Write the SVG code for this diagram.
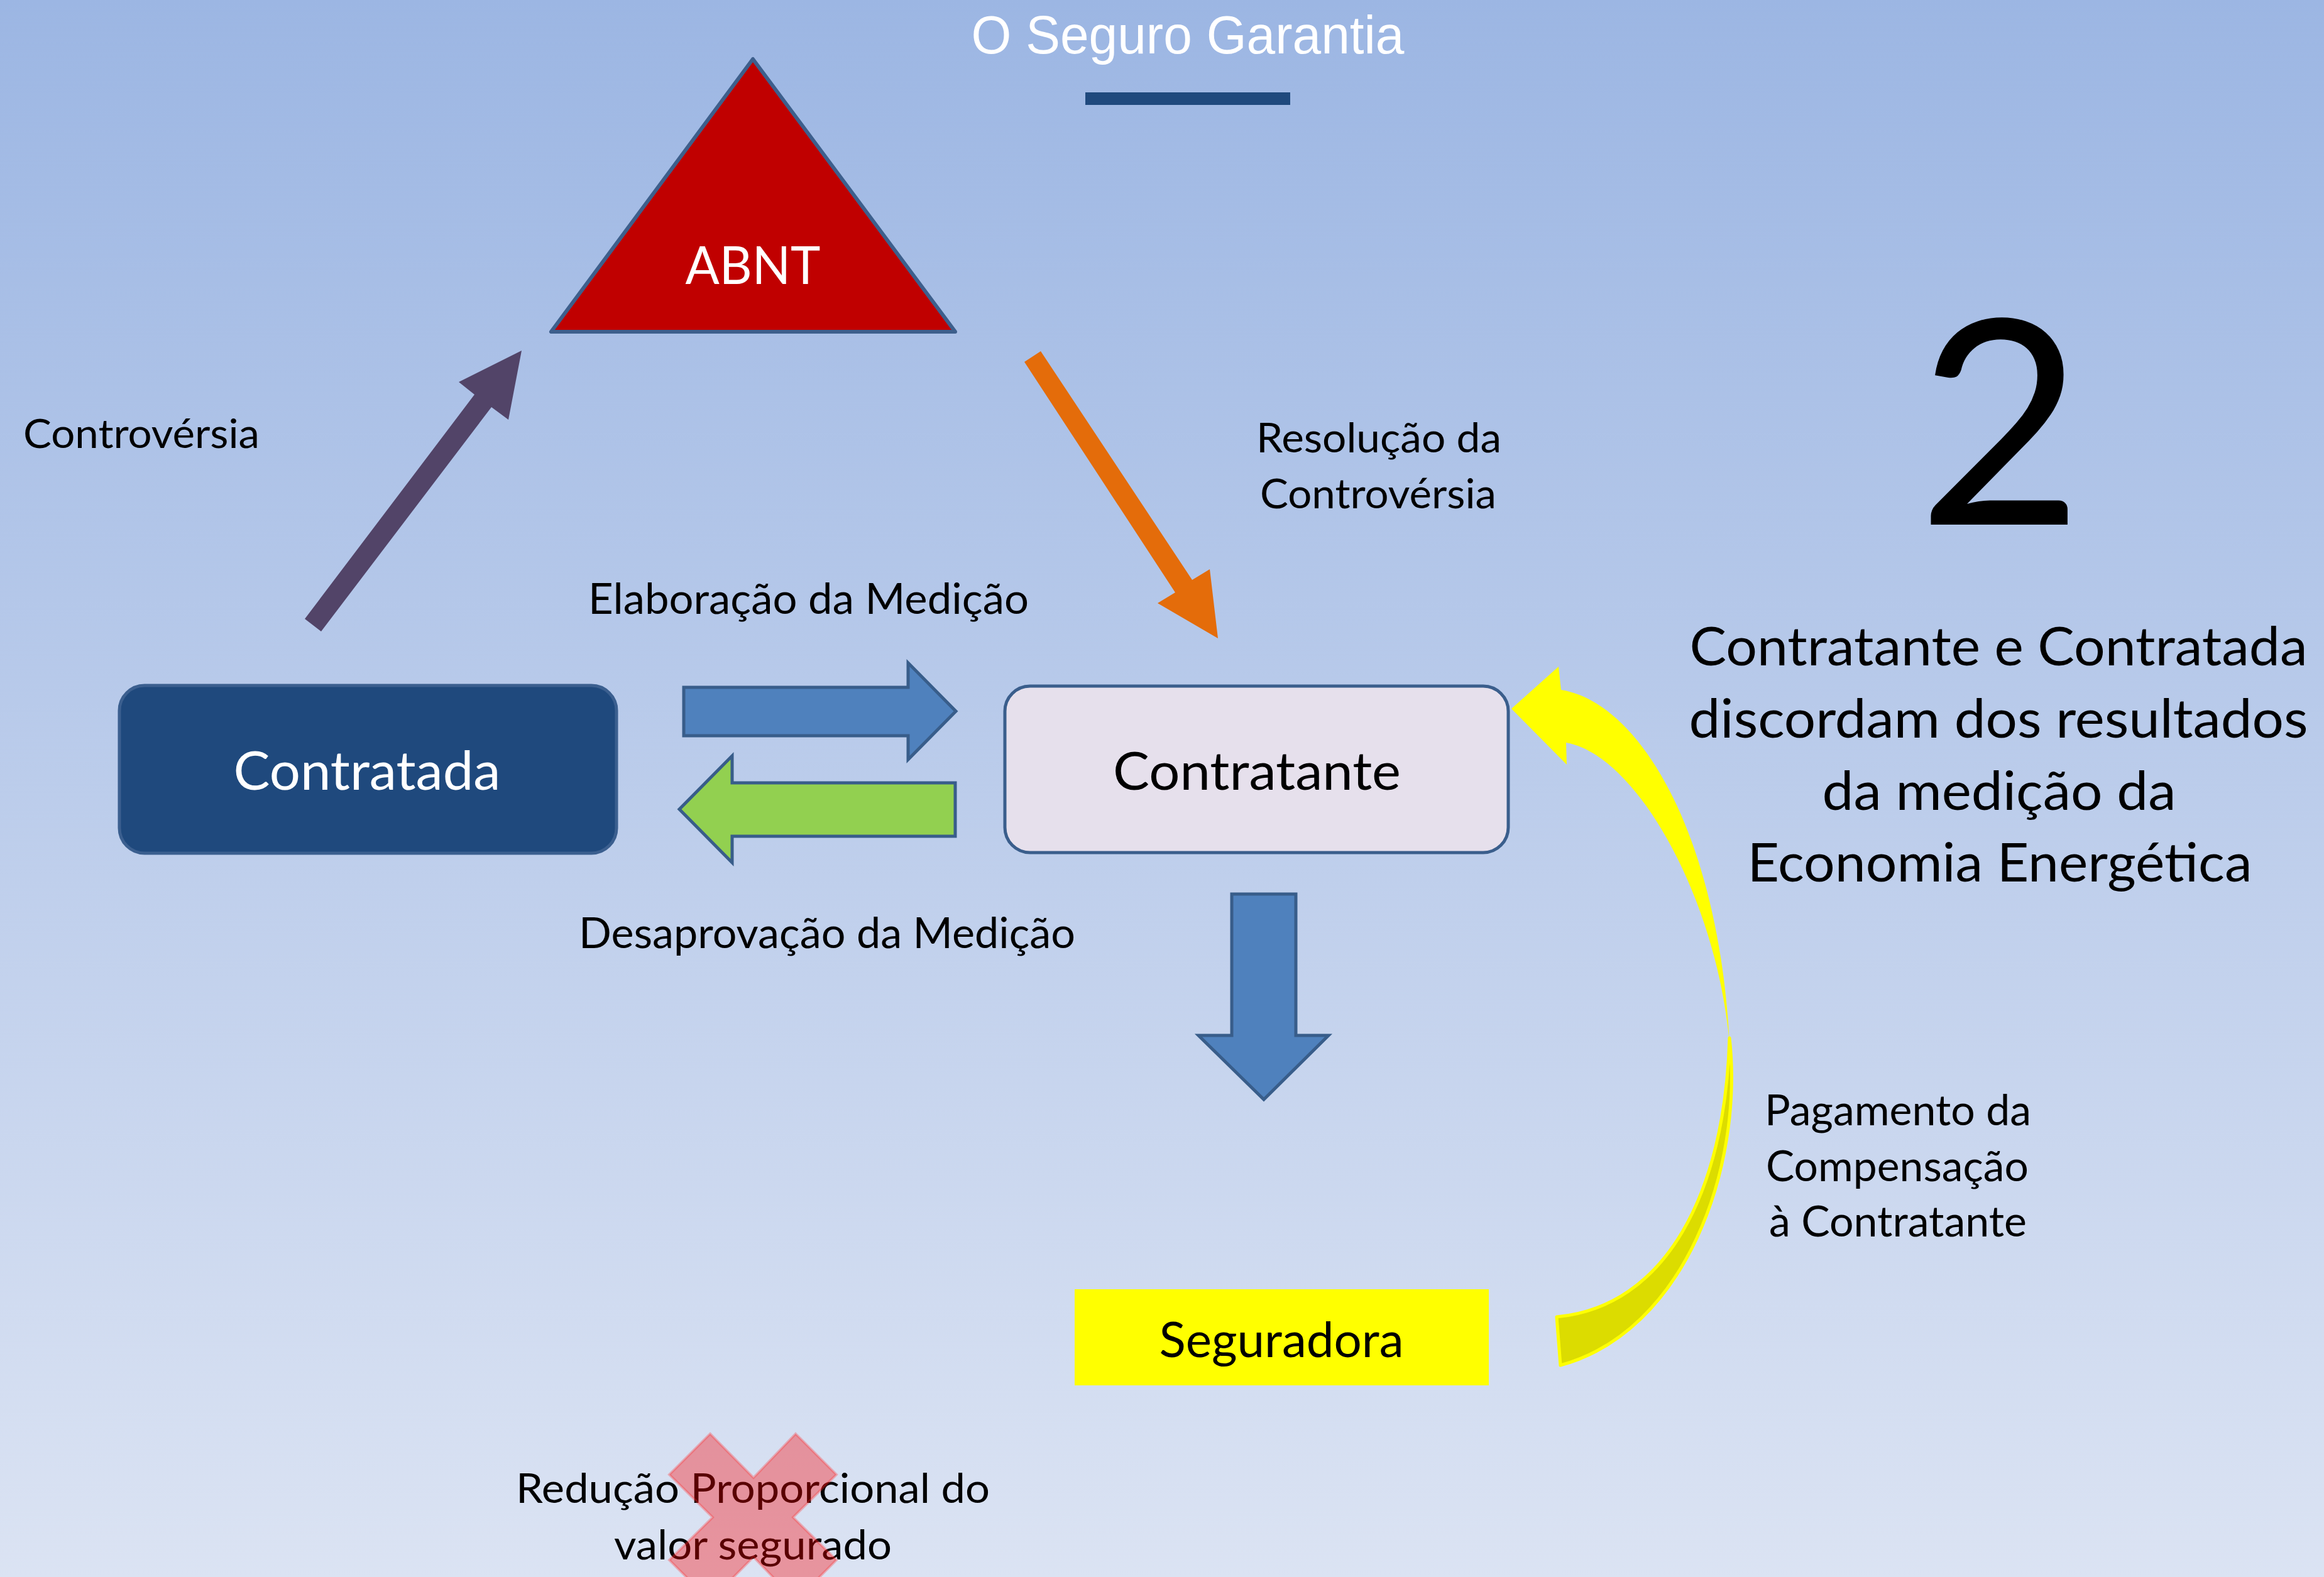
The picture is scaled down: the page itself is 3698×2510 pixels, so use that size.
<svg xmlns="http://www.w3.org/2000/svg" width="3698" height="2510" viewBox="0 0 3698 2510">
<defs>
<linearGradient id="bg" x1="0" y1="0" x2="0" y2="1">
<stop offset="0" stop-color="#9CB6E3"/>
<stop offset="1" stop-color="#DBE3F3"/>
</linearGradient>
<style>
.lbl{font-family:Lato,"Open Sans","Liberation Sans",sans-serif;fill:#000}
.w{fill:#fff}
.mid{text-anchor:middle}
.blk{fill:#4F81BD;stroke:#385D8A;stroke-width:5;stroke-linejoin:miter}
.box{stroke-width:5}
</style>
</defs>
<rect x="0" y="0" width="3698" height="2510" fill="url(#bg)"/>

<g id="title">
<text x="1890" y="85" font-family="'Liberation Sans',Arial,sans-serif" font-size="86" fill="#fff" text-anchor="middle" textLength="689" lengthAdjust="spacingAndGlyphs">O Seguro Garantia</text>
<rect x="1727" y="147" width="326" height="20" fill="#1F497D"/>
</g>

<g id="connectors">
<polygon id="arrow-controversia" points="485,985 755,628 730,608 830,558 809,668 782,648 511,1005" fill="#524468"/>
<polygon id="arrow-resolucao" points="1656,559 1897,923 1925,906 1938,1016 1842,960 1870,943 1630,576" fill="#E46C0A"/>
<polygon id="arrow-elaboracao" class="blk" points="1088,1094 1445,1094 1445,1055 1521,1132 1445,1209 1445,1171 1088,1171"/>
<polygon id="arrow-desaprovacao" points="1520,1246 1165,1246 1165,1203 1081,1288 1165,1373 1165,1331 1520,1331" fill="#92D050" stroke="#385D8A" stroke-width="5"/>
<polygon id="arrow-down" class="blk" points="1960,1423 2062,1423 2062,1648 2114,1648 2011,1750 1907,1648 1960,1648"/>
<g id="arrow-pagamento">
<path d="M2752,1652 C2775,1860 2680,2120 2483,2173 L2477,2096 C2650,2080 2745,1900 2752,1652 Z" fill="#DCDC00" stroke="#FFFF00" stroke-width="5" stroke-linejoin="round"/>
<path d="M2484,1098 L2480,1061 L2405,1128 L2493,1217 L2492,1182 C2600,1200 2730,1420 2752,1660 C2735,1330 2610,1118 2484,1098 Z" fill="#FFFF00"/>
</g>
</g>

<g id="node-abnt">
<polygon points="1198,94 877,528 1520,528" fill="#C00000" stroke="#3D5F8C" stroke-width="6" stroke-linejoin="round"/>
<text class="lbl w mid" x="1198" y="452" font-size="84" textLength="215" lengthAdjust="spacingAndGlyphs">ABNT</text>
</g>

<g id="node-contratada">
<rect class="box" x="190" y="1091" width="791" height="267" rx="40" ry="40" fill="#1F497D" stroke="#3B5F8F"/>
<text class="lbl w mid" x="584" y="1257" font-size="86" textLength="425" lengthAdjust="spacingAndGlyphs">Contratada</text>
</g>

<g id="node-contratante">
<rect class="box" x="1599" y="1092" width="801" height="265" rx="40" ry="40" fill="#E6E0EC" stroke="#3A5E8C"/>
<text class="lbl mid" x="2000" y="1257" font-size="84" textLength="458" lengthAdjust="spacingAndGlyphs">Contratante</text>
</g>

<g id="node-seguradora">
<rect x="1710" y="2052" width="659" height="153" fill="#FFFF00"/>
<text class="lbl mid" x="2039" y="2160" font-size="78" textLength="389" lengthAdjust="spacingAndGlyphs">Seguradora</text>
</g>

<g id="labels">
<text class="lbl" x="37" y="713" font-size="64" textLength="376" lengthAdjust="spacingAndGlyphs">Controvérsia</text>
<text class="lbl mid" x="2194" y="720" font-size="65" textLength="390" lengthAdjust="spacingAndGlyphs">Resolução da</text>
<text class="lbl mid" x="2193" y="809" font-size="65" textLength="376" lengthAdjust="spacingAndGlyphs">Controvérsia</text>
<text class="lbl" x="936" y="977" font-size="67" textLength="701" lengthAdjust="spacingAndGlyphs">Elaboração da Medição</text>
<text class="lbl" x="921" y="1509" font-size="67" textLength="790" lengthAdjust="spacingAndGlyphs">Desaprovação da Medição</text>
<text class="lbl mid" x="3020" y="1791" font-size="67" textLength="424" lengthAdjust="spacingAndGlyphs">Pagamento da</text>
<text class="lbl mid" x="3019" y="1880" font-size="67" textLength="418" lengthAdjust="spacingAndGlyphs">Compensação</text>
<text class="lbl mid" x="3020" y="1968" font-size="67" textLength="410" lengthAdjust="spacingAndGlyphs">à Contratante</text>
</g>

<g id="step">
<text class="lbl mid" x="3183" y="835" font-size="455">2</text>
<text class="lbl mid" x="3180" y="1059" font-size="86" textLength="983" lengthAdjust="spacingAndGlyphs">Contratante e Contratada</text>
<text class="lbl mid" x="3180" y="1174" font-size="86" textLength="985" lengthAdjust="spacingAndGlyphs">discordam dos resultados</text>
<text class="lbl mid" x="3181" y="1289" font-size="86" textLength="563" lengthAdjust="spacingAndGlyphs">da medição da</text>
<text class="lbl mid" x="3182" y="1403" font-size="86" textLength="803" lengthAdjust="spacingAndGlyphs">Economia Energética</text>
</g>

<g id="reducao">
<text class="lbl mid" x="1198" y="2392" font-size="65" textLength="754" lengthAdjust="spacingAndGlyphs">Redução Proporcional do</text>
<text class="lbl mid" x="1198" y="2482" font-size="65" textLength="442" lengthAdjust="spacingAndGlyphs">valor segurado</text>
<polygon points="1130,2282 1199,2352 1266,2282 1331,2347 1262,2415 1331,2483 1266,2548 1199,2478 1130,2548 1065,2483 1134,2415 1065,2347" fill="#FF0000" fill-opacity="0.35" stroke="#FF3030" stroke-opacity="0.3" stroke-width="4"/>
</g>
</svg>
